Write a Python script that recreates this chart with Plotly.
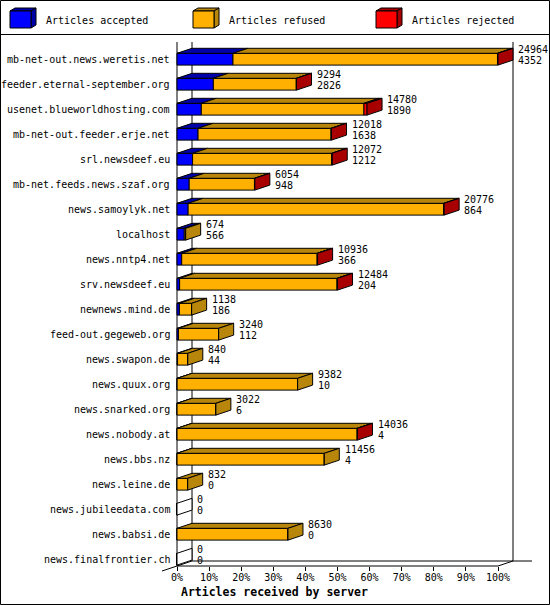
import plotly.graph_objects as go

# innreport style chart: articles received by server
NAMES = [
    "mb-net-out.news.weretis.net", "feeder.eternal-september.org",
    "usenet.blueworldhosting.com", "mb-net-out.feeder.erje.net",
    "srl.newsdeef.eu", "mb-net.feeds.news.szaf.org", "news.samoylyk.net",
    "localhost", "news.nntp4.net", "srv.newsdeef.eu", "newnews.mind.de",
    "feed-out.gegeweb.org", "news.swapon.de", "news.quux.org",
    "news.snarked.org", "news.nobody.at", "news.bbs.nz", "news.leine.de",
    "news.jubileedata.com", "news.babsi.de", "news.finalfrontier.ch",
]
TOTAL = [24964, 9294, 14780, 12018, 12072, 6054, 20776, 674, 10936, 12484,
         1138, 3240, 840, 9382, 3022, 14036, 11456, 832, 0, 8630, 0]
ACCEPTED = [4352, 2826, 1890, 1638, 1212, 948, 864, 566, 366, 204,
            186, 112, 44, 10, 6, 4, 4, 0, 0, 0, 0]
REFUSED = [20572, 6448, 12650, 10340, 10820, 5076, 19882, 108, 10530, 12240,
           952, 3128, 796, 9372, 3016, 14002, 11452, 832, 0, 8630, 0]
REJECTED = [40, 20, 240, 40, 40, 30, 30, 0, 40, 40,
            0, 0, 0, 0, 0, 30, 0, 0, 0, 0, 0]
SERIES = ["Articles accepted", "Articles refused", "Articles rejected"]
XTICKS = [0, 10, 20, 30, 40, 50, 60, 70, 80, 90, 100]

FRONT = ["#0000FF", "#FFB000", "#FF0000"]
DARK = ["#0000A8", "#B8860B", "#A80000"]
FONT = "DejaVu Sans Mono"

# pixel layout of the plotting box
W, H = 550, 605
L, R, T, B = 150, 540, 40, 566
X0PX, PXPCT = 177, 3.21      # 0% position and pixels per percent
ROW0, ROWPX = 59.2, 25.0     # centre of first row and row pitch
DX = 15 / PXPCT              # depth of the 3d effect (x, percent)
DY = 5 / ROWPX               # depth of the 3d effect (y, rows)
HALF = 0.236


def px(x):
    return (x - L) / (R - L)


def py(y):
    return (B - y) / (B - T)


def xp(x):
    return (x - X0PX) / PXPCT


maxv = max(TOTAL)
rows = list(range(len(NAMES)))
segs = [ACCEPTED, REFUSED, REJECTED]

fig = go.Figure()

# front faces
base = [0.0] * len(rows)
tops = [([], []) for _ in SERIES]
for k, vals in enumerate(segs):
    w = [v * 100.0 / maxv for v in vals]
    fig.add_trace(go.Bar(
        y=rows, x=w, base=list(base), orientation="h", width=2 * HALF,
        marker=dict(color=FRONT[k], line=dict(color="black", width=1)),
        showlegend=False, hoverinfo="skip",
    ))
    for i in rows:
        if w[i] > 0:
            x0, x1 = base[i], base[i] + w[i]
            yt = i - HALF
            tops[k][0].extend([x0, x1, x1 + DX, x0 + DX, x0, None])
            tops[k][1].extend([yt, yt, yt - DY, yt - DY, yt, None])
    base = [b + ww for b, ww in zip(base, w)]

# top faces
for k in range(len(SERIES)):
    fig.add_trace(go.Scatter(
        x=tops[k][0], y=tops[k][1], mode="lines", fill="toself",
        fillcolor=DARK[k], line=dict(color="black", width=1),
        showlegend=False, hoverinfo="skip",
    ))

# side faces, coloured like the last segment of each bar
sides = {}
for i in rows:
    col = "white"
    for k in range(len(SERIES)):
        if segs[k][i] > 0:
            col = DARK[k]
    xe = base[i]
    yt, yb = i - HALF, i + HALF
    xs, ys = sides.setdefault(col, ([], []))
    xs.extend([xe, xe + DX, xe + DX, xe, xe, None])
    ys.extend([yt, yt - DY, yb - DY, yb, yt, None])
for col, (xs, ys) in sides.items():
    fig.add_trace(go.Scatter(
        x=xs, y=ys, mode="lines", fill="toself", fillcolor=col,
        line=dict(color="black", width=1), showlegend=False, hoverinfo="skip",
    ))

ann = []
# category labels
for i in rows:
    ann.append(dict(x=xp(172), y=i, xref="x", yref="y", text=NAMES[i],
                    xanchor="right", yanchor="middle", showarrow=False,
                    font=dict(family=FONT, size=10, color="black")))
# value labels (total / accepted)
for i in rows:
    xl = base[i] + DX + 1.0
    ann.append(dict(x=xl, y=i - 0.37, xref="x", yref="y", text=str(TOTAL[i]),
                    xanchor="left", yanchor="middle", showarrow=False,
                    font=dict(family=FONT, size=10, color="black")))
    ann.append(dict(x=xl, y=i + 0.06, xref="x", yref="y", text=str(ACCEPTED[i]),
                    xanchor="left", yanchor="middle", showarrow=False,
                    font=dict(family=FONT, size=10, color="black")))
# axis title
ann.append(dict(x=px(179), y=py(592), xref="paper", yref="paper",
                text="<b>Articles received by server</b>", xanchor="left",
                yanchor="middle", showarrow=False,
                font=dict(family=FONT, size=11.5, color="black")))

line = dict(color="black", width=1)
shapes = [
    # outer border and legend separator
    dict(type="rect", xref="paper", yref="paper", x0=px(0.5), x1=px(549.5),
         y0=py(0.5), y1=py(604.5), line=line),
    dict(type="line", xref="paper", yref="paper", x0=px(0), x1=px(550),
         y0=py(34.5), y1=py(34.5), line=line),
    # 3d box frame
    dict(type="line", xref="x", yref="paper", x0=0, x1=0,
         y0=py(42), y1=py(566), line=line, layer="below"),
    dict(type="line", xref="x", yref="paper", x0=DX, x1=DX,
         y0=py(42), y1=py(561), line=line, layer="below"),
    dict(type="line", xref="x", yref="paper", x0=100 + DX, x1=100 + DX,
         y0=py(42), y1=py(561), line=line, layer="below"),
    dict(type="line", xref="x", yref="paper", x0=DX, x1=xp(532),
         y0=py(561), y1=py(561), line=line, layer="below"),
    dict(type="line", xref="x", yref="paper", x0=0, x1=100,
         y0=py(566), y1=py(566), line=line, layer="below"),
    dict(type="line", xref="x", yref="paper", x0=-DX, x1=DX,
         y0=py(571), y1=py(561), line=line, layer="below"),
    dict(type="line", xref="x", yref="paper", x0=100, x1=100 + DX,
         y0=py(566), y1=py(561), line=line, layer="below"),
]

# legend with little 3d boxes
for k, (name, lx) in enumerate(zip(SERIES, [10, 193, 376])):
    x0, x1, y0, y1 = lx, lx + 21, 11, 28
    shapes.append(dict(type="path", xref="paper", yref="paper",
                       path=f"M{px(x0)},{py(y0)} L{px(x1)},{py(y0)} L{px(x1 + 5)},{py(y0 - 3)} "
                            f"L{px(x0 + 5)},{py(y0 - 3)} Z",
                       fillcolor=DARK[k], line=line))
    shapes.append(dict(type="path", xref="paper", yref="paper",
                       path=f"M{px(x1)},{py(y0)} L{px(x1 + 5)},{py(y0 - 3)} L{px(x1 + 5)},{py(y1 - 3)} "
                            f"L{px(x1)},{py(y1)} Z",
                       fillcolor=DARK[k], line=line))
    shapes.append(dict(type="rect", xref="paper", yref="paper",
                       x0=px(x0), x1=px(x1), y0=py(y1), y1=py(y0),
                       fillcolor=FRONT[k], line=line))
    ann.append(dict(x=px(lx + 34), y=py(20.5), xref="paper", yref="paper",
                    text=name, xanchor="left", yanchor="middle", showarrow=False,
                    font=dict(family=FONT, size=10, color="black")))

fig.update_layout(
    width=W, height=H,
    margin=dict(l=L, r=W - R, t=T, b=H - B, pad=0),
    paper_bgcolor="white", plot_bgcolor="white",
    barmode="overlay", showlegend=False,
    xaxis=dict(range=[xp(L), xp(R)], tickvals=XTICKS,
               ticktext=[f"{t}%" for t in XTICKS], ticks="outside", ticklen=4,
               tickcolor="black", showgrid=False, zeroline=False, showline=False,
               tickfont=dict(family=FONT, size=10, color="black"),
               ticklabelstandoff=-2, fixedrange=True),
    yaxis=dict(range=[(B - ROW0) / ROWPX, -(ROW0 - T) / ROWPX],
               showticklabels=False, showgrid=False, zeroline=False,
               showline=False, ticks="", fixedrange=True),
    shapes=shapes, annotations=ann,
)

fig.write_html("out.html", post_script="document.body.style.margin='0';",
               config={"displayModeBar": False})
